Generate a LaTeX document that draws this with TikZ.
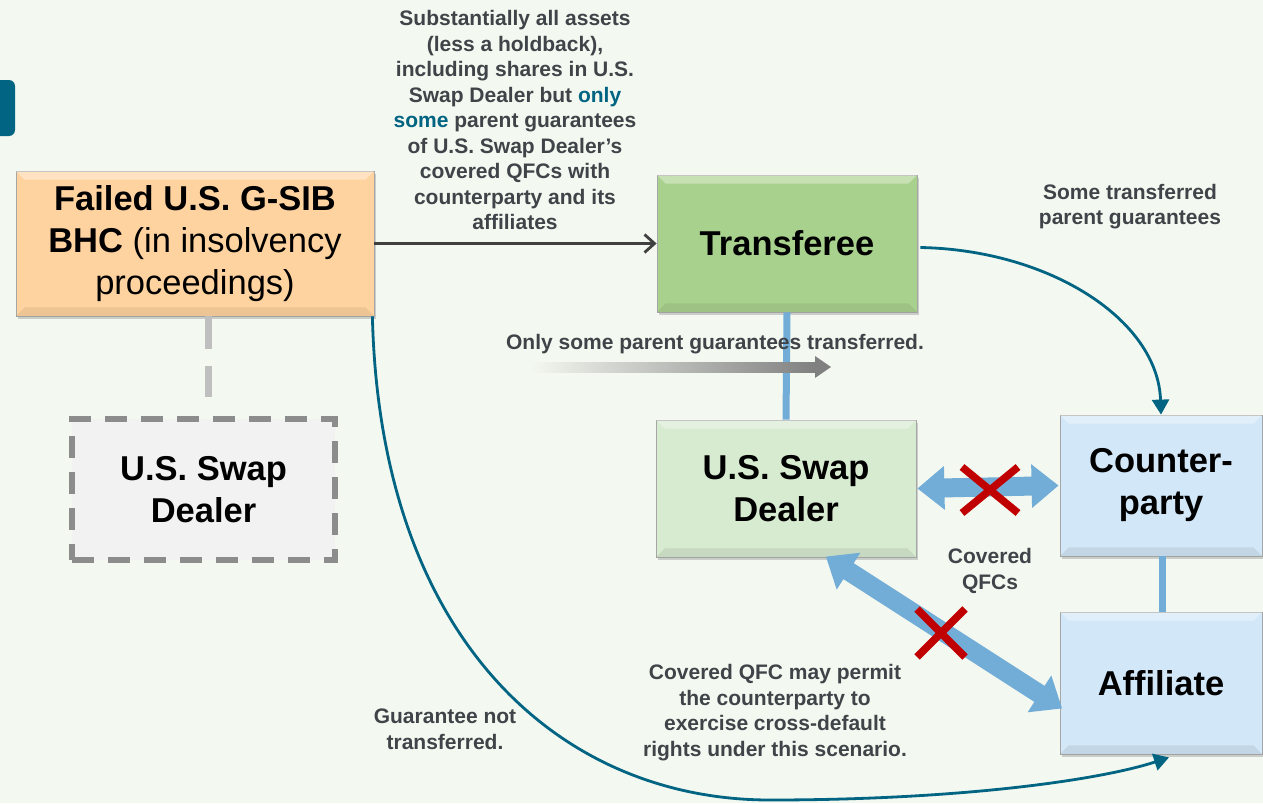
\documentclass[tikz,border=0pt]{standalone}
\usepackage{fontspec}
\setmainfont{Liberation Sans}
\usetikzlibrary{arrows.meta,shadows,calc}
\definecolor{bg}{HTML}{F3F8F0}
\definecolor{peach}{HTML}{FFD3A0}
\definecolor{grn}{HTML}{A9D18E}
\definecolor{lgrn}{HTML}{D7EBD0}
\definecolor{lblue}{HTML}{D2E7F8}
\definecolor{teal}{HTML}{006482}
\definecolor{txt}{HTML}{3F4449}
\definecolor{qblue}{HTML}{72ADD7}
\definecolor{xred}{HTML}{C00000}
\definecolor{dgray}{HTML}{8C8C8C}
\tikzset{
  box/.style={draw=black!35, line width=0.8pt, inner sep=0pt, align=center,
    drop shadow={shadow xshift=2pt, shadow yshift=-3pt, opacity=0.35},
    font=\fontsize{34.5}{42}\selectfont\bfseries},
  lbl/.style={text=txt, align=center, font=\fontsize{21}{25.5}\selectfont\bfseries},
  redx/.style={xred, line width=7.5pt},
  tealarrow/.style={teal, line width=2.8pt, -{Triangle[length=15pt,width=17pt]}},
  fatarrow/.style={qblue, line width=19pt, {Triangle[length=27pt,width=42pt]}-{Triangle[length=27pt,width=42pt]}, shorten <=1pt, shorten >=1pt}
}
\begin{document}
\begin{tikzpicture}[x=1pt,y=-1pt]
\fill[bg] (0,0) rectangle (1263,803);
\useasboundingbox (0,0) rectangle (1263,803);
% tab
\fill[teal, rounded corners=6pt] (-12,80) rectangle (15,136);

% nodes
\node[box, fill=peach, minimum width=358pt, minimum height=145pt] (bhc) at (195,243.5)
  {Failed U.S. G-SIB\\BHC \mdseries(in insolvency\\\mdseries proceedings)};
\node[box, fill=grn, minimum width=260pt, minimum height=137pt] (tr) at (787,243.5) {Transferee};
\node[box, fill=lgrn, minimum width=260pt, minimum height=137pt] (sd) at (786,488.5) {U.S. Swap\\Dealer};
\node[box, fill=lblue, minimum width=202pt, minimum height=141pt] (cp) at (1161,485.5) {Counter-\\party};
\node[box, fill=lblue, minimum width=202pt, minimum height=142pt] (af) at (1161,683) {Affiliate};
\node[draw=dgray, dashed, dash pattern=on 22pt off 14pt, line width=6pt, fill=black!5, inner sep=0pt, align=center,
  minimum width=263pt, minimum height=141pt, font=\fontsize{34.5}{42}\selectfont\bfseries] (ds) at (203.5,489.5) {U.S. Swap\\Dealer};

% bevel highlights
\foreach \n in {bhc,tr,sd,cp,af}{
  \fill[white, opacity=0.35] (\n.north west) -- (\n.north east) -- ($(\n.north east)+(-9,9)$) -- ($(\n.north west)+(9,9)$) -- cycle;
  \fill[black, opacity=0.07] (\n.south west) -- (\n.south east) -- ($(\n.south east)+(-9,-9)$) -- ($(\n.south west)+(9,-9)$) -- cycle;
}

% gray dashed link
\coordinate (g1) at ($(bhc.south)+(13,0)$);
\coordinate (g2) at ($(ds.north)+(4.5,-19)$);
\draw[black!25, line width=7pt, dash pattern=on 33pt off 17pt] (g1) -- (g2);

% main transfer arrow
\draw[black!75, line width=2.8pt, -{Straight Barb[length=10pt,width=18pt,line width=2.8pt]}] (bhc.east) -- (tr.west);

% vertical blue links
\draw[qblue, line width=7pt] (tr.south) -- (sd.north);
\draw[qblue, line width=7pt] ($(cp.south)+(1,0)$) -- ($(af.north)+(1,0)$);

% gradient arrow
\shade[left color=bg, right color=black!50] (530,362) rectangle (816,372);
\fill[black!50] (815,356) -- (831,367) -- (815,378) -- cycle;
\node[lbl] (only) at (715,344) {Only some parent guarantees transferred.};

% fat double arrows
\draw[fatarrow] (sd.east) -- (cp.west);
\coordinate (d1) at (825,556);
\coordinate (d2) at (1063,709);
\draw[fatarrow] (d1) -- (d2);

% red X marks
\coordinate (x1) at (990,490);
\draw[redx] ($(x1)+(-28,-23)$) -- ($(x1)+(28,23)$);
\draw[redx] ($(x1)+(-28,23)$) -- ($(x1)+(28,-23)$);
\coordinate (x2) at (941,633);
\draw[redx] ($(x2)+(-24,-24)$) -- ($(x2)+(24,24)$);
\draw[redx] ($(x2)+(-24,24)$) -- ($(x2)+(24,-24)$);

% teal curves
\draw[tealarrow] ($(tr.east)+(3,4)$) .. controls (1050,250) and (1158,320) .. (cp.north);
\draw[teal, line width=2.8pt] ($(bhc.south east)+(-2,0)$) .. controls (380,640) and (560,800) .. (770,800);
\coordinate (cv) at (770,800);
\draw[tealarrow] (cv) .. controls (960,800) and (1100,780) .. ($(af.south)+(8,3)$);

% labels
\node[lbl] (toplbl) at (515,120) {Substantially all assets\\(less a holdback),\\including shares in U.S.\\Swap Dealer but \textcolor{teal}{only}\\\textcolor{teal}{some} parent guarantees\\of U.S. Swap Dealer's\\covered QFCs with\\counterparty and its\\affiliates};
\node[lbl] (stpg) at (1130,206.5) {Some transferred\\parent guarantees};
\node[lbl] (cqfc) at (990,571) {Covered\\QFCs};
\node[lbl] (perm) at (775,712.5) {Covered QFC may permit\\the counterparty to\\exercise cross-default\\rights under this scenario.};
\node[lbl] (gnt) at (445,729.5) {Guarantee not\\transferred.};
\end{tikzpicture}
\end{document}
